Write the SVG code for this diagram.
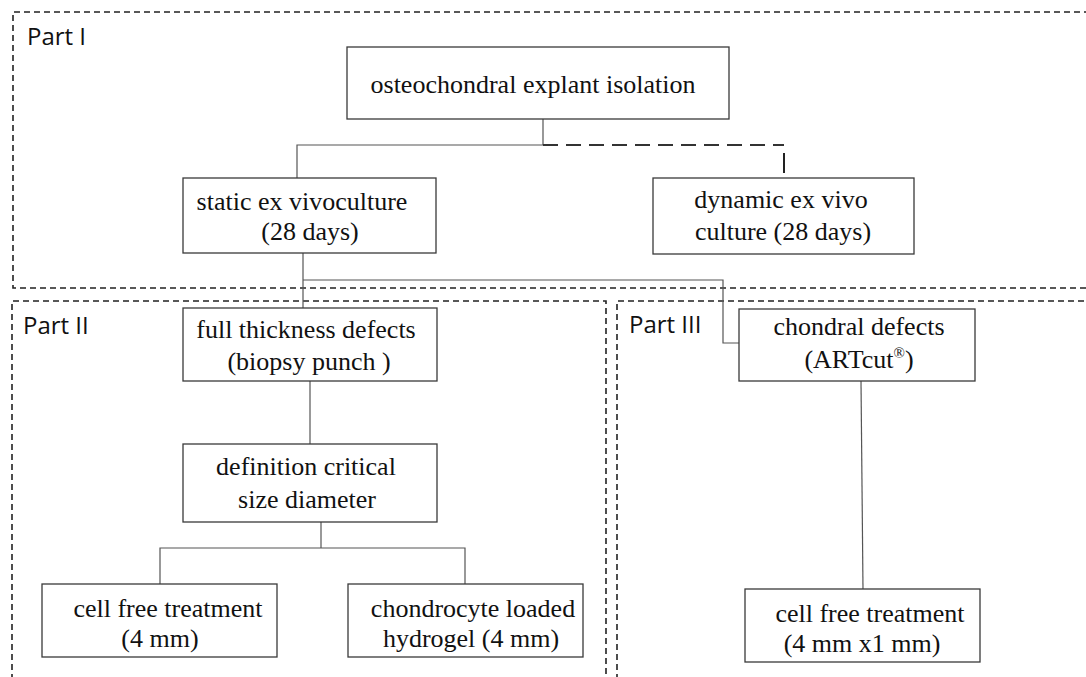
<svg xmlns="http://www.w3.org/2000/svg" width="1086" height="677" viewBox="0 0 1086 677">
<style>
.bg{fill:#fff}
.part{fill:none;stroke:#222;stroke-width:1.6;stroke-dasharray:6 4}
.plabel{font-family:"Open Sans","Noto Sans",sans-serif;font-size:24px;fill:#111}
.box{fill:#fff;stroke:#3a3a3a;stroke-width:1.3}
.t{font-family:"Liberation Serif","Times New Roman",serif;font-size:26px;fill:#111;text-anchor:middle}
.c{fill:none;stroke:#555;stroke-width:1.2}
.cd{fill:none;stroke:#333;stroke-width:2.2;stroke-dasharray:15 8}
</style>
<rect class="bg" x="0" y="0" width="1086" height="677"/>
<g id="part-frames">
<path class="part" d="M1090,12 H13 V288 H1090"/>
<path class="part" d="M12,690 V301 H606 V690"/>
<path class="part" d="M617,690 V301 H1090"/>
<text class="plabel" x="27" y="45">Part I</text>
<text class="plabel" x="23" y="334">Part II</text>
<text class="plabel" x="629" y="333">Part III</text>
</g>
<g id="connectors">
<path class="c" d="M543,119 V145 H297 V178"/>
<path class="cd" d="M543,145 H784"/>
<path class="c" d="M784,153 V173" style="stroke:#222;stroke-width:2"/>
<path class="c" d="M303,253 V308"/>
<path class="c" d="M303,280 H723 V343 H739"/>
<path class="c" d="M310,381 V444"/>
<path class="c" d="M321,522 V548"/>
<path class="c" d="M160,584 V548 H465 V584"/>
<path class="c" d="M861,381 L863,589"/>
</g>
<g id="n-isolation">
<rect class="box" x="347" y="47" width="382" height="72"/>
<text class="t" x="533" y="93">osteochondral explant isolation</text>
</g>
<g id="n-static">
<rect class="box" x="183" y="178" width="253" height="75"/>
<text class="t" x="302" y="210">static ex vivoculture</text>
<text class="t" x="310" y="240">(28 days)</text>
</g>
<g id="n-dynamic">
<rect class="box" x="653" y="178" width="261" height="76"/>
<text class="t" x="781" y="208">dynamic ex vivo</text>
<text class="t" x="783" y="240">culture (28 days)</text>
</g>
<g id="n-full">
<rect class="box" x="183" y="308" width="254" height="73"/>
<text class="t" x="306" y="338">full thickness defects</text>
<text class="t" x="309" y="370">(biopsy punch )</text>
</g>
<g id="n-definition">
<rect class="box" x="183" y="444" width="254" height="78"/>
<text class="t" x="306" y="475">definition critical</text>
<text class="t" x="307" y="508">size diameter</text>
</g>
<g id="n-cellfree2">
<rect class="box" x="42" y="584" width="235" height="73"/>
<text class="t" x="168" y="617">cell free treatment</text>
<text class="t" x="160" y="647">(4 mm)</text>
</g>
<g id="n-chondrocyte">
<rect class="box" x="348" y="584" width="235" height="73"/>
<text class="t" x="473" y="617">chondrocyte loaded</text>
<text class="t" x="471" y="647">hydrogel (4 mm)</text>
</g>
<g id="n-chondral">
<rect class="box" x="739" y="309" width="236" height="72"/>
<text class="t" x="859" y="335">chondral defects</text>
<text class="t" x="859" y="368">(ARTcut<tspan font-size="15" dy="-10">®</tspan><tspan dy="10">)</tspan></text>
</g>
<g id="n-cellfree3">
<rect class="box" x="745" y="589" width="235" height="73"/>
<text class="t" x="870" y="622">cell free treatment</text>
<text class="t" x="862" y="652">(4 mm x1 mm)</text>
</g>
</svg>
